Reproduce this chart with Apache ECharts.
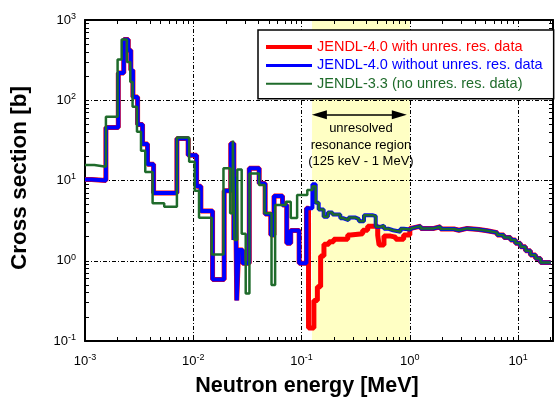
<!DOCTYPE html>
<html>
<head>
<meta charset="utf-8">
<script src="https://cdn.jsdelivr.net/npm/echarts@6/dist/echarts.min.js"></script>
<style>
  html, body { margin: 0; padding: 0; background: #fff; }
  #chart { width: 556px; height: 403px; }
</style>
</head>
<body>
<div id="chart"></div>
<script>
// Neutron cross section vs. energy: JENDL-4.0 (with / without unresolved
// resonance parameters) and JENDL-3.3, drawn as histogram steps.

// Resolved resonance range, shared by both JENDL-4.0 curves [MeV], [b]
const resolvedE = [0.001, 0.00115, 0.00156, 0.00203, 0.00228, 0.00251, 0.00265, 0.00277,
  0.00306, 0.0034, 0.00378, 0.0043, 0.00706, 0.00897, 0.01073, 0.01175, 0.01507, 0.01928,
  0.0222, 0.0237, 0.0245, 0.0252, 0.0262, 0.0285, 0.0329, 0.0406, 0.0461, 0.052, 0.0557,
  0.0667, 0.073, 0.0794, 0.095];
const resolvedS = [10.3, 10.0, 45.8, 219, 571, 420, 237, 110,
  50, 28.4, 15.9, 7.0, 33.4, 20.7, 8.5, 4.16, 0.585, 7.45,
  29, 1.81, 11.1, 0.32, 1.36, 0.93, 14.2, 9.2, 3.82, 2.09, 6.4,
  4.94, 1.65, 2.38, 0.93];

// JENDL-4.0 with unresolved resonance data (0.11 - 1 MeV)
const withUnresE = [0.111, 0.116, 0.130, 0.140, 0.150, 0.161, 0.179, 0.198, 0.267, 0.284,
  0.367, 0.408, 0.505, 0.52, 0.577, 0.665, 0.74, 0.877];
const withUnresS = [4.5, 0.145, 0.32, 0.475, 1.15, 1.6, 1.72, 1.85, 2.09, 2.17,
  2.4, 2.7, 2.09, 1.57, 2.03, 1.97, 1.85, 2.09];

// JENDL-4.0 without unresolved resonance data, lead-in to the smooth part
const withoutUnresE = [0.111, 0.126];
const withoutUnresS = [4.5, 9.0];

// Smooth cross section 0.135 - 1 MeV (JENDL-4.0 without unres. data and JENDL-3.3)
const smoothE = [0.135, 0.144, 0.160, 0.175, 0.193, 0.228, 0.245, 0.272, 0.315, 0.339,
  0.377, 0.45, 0.484, 0.54, 0.577, 0.64, 0.70, 0.82, 0.88];
const smoothS = [5.27, 4.36, 3.53, 4.0, 3.77, 3.38, 3.2, 3.45, 3.3, 3.1,
  3.7, 3.6, 2.65, 2.75, 2.5, 2.4, 2.3, 2.5, 2.45];

// Fast range 1 - 20 MeV, common to all three evaluations
const fastE = [1.0, 1.05, 1.26, 1.67, 1.92, 2.55, 2.84, 3.39, 4.34, 5.19, 6.41, 7.38,
  8.51, 9.46, 10.5, 11.7, 13.0, 14.5, 16.1, 20];
const fastS = [2.55, 2.70, 2.53, 2.65, 2.49, 2.40, 2.53, 2.45, 2.36, 2.24, 2.09, 1.95,
  1.81, 1.65, 1.49, 1.33, 1.18, 1.07, 0.95, 0.95];

// JENDL-3.3 below 0.135 MeV
const j33E = [0.001, 0.00122, 0.00156, 0.0020, 0.00218, 0.00244, 0.00262, 0.00275, 0.00302,
  0.00329, 0.0036, 0.00421, 0.00539, 0.00706, 0.00916, 0.0103, 0.0113, 0.0148, 0.0190,
  0.0219, 0.0232, 0.0240, 0.0255, 0.0280, 0.0305, 0.0330, 0.0406, 0.0455, 0.0528, 0.0570,
  0.0716, 0.0795, 0.0910, 0.113, 0.126];
const j33S = [15.6, 14.8, 62.1, 322, 571, 300, 169, 82.8, 40.4,
  23.4, 12.8, 5.19, 4.7, 34.4, 17.1, 7.45, 3.43, 1.20, 14.2,
  3.9, 31.6, 1.81, 13.7, 2.17, 0.39, 12.2, 8.8, 3.9, 0.5, 4.94,
  5.43, 3.4, 6.58, 7.6, 8.5];

const seriesNames = ['JENDL-4.0 with unres. res. data',
  'JENDL-4.0 without unres. res. data',
  'JENDL-3.3 (no unres. res. data)'];
const xLabelValues = [0.001, 0.01, 0.1, 1, 10];
const regionText = ['unresolved', 'resonance region', '(125 keV - 1 MeV)'];
const regionBounds = [0.125, 1];

const FONT = '"Liberation Sans", Arial, sans-serif';
const RED = '#ff0000', BLUE = '#0000ff', GREEN = '#1f6b2b';

const pairs = (E, S) => E.map((e, i) => [e, S[i]]);
const redData = pairs(resolvedE, resolvedS).concat(pairs(withUnresE, withUnresS), pairs(fastE, fastS));
const blueData = pairs(resolvedE, resolvedS).concat(pairs(withoutUnresE, withoutUnresS),
  pairs(smoothE, smoothS), pairs(fastE, fastS));
const greenData = pairs(j33E, j33S).concat(pairs(smoothE, smoothS), pairs(fastE, fastS));

// tick marks at 1..9 x 10^n inside each axis
function logTicks(lo, hi) {
  const out = [];
  for (let d = Math.floor(Math.log10(lo)); d <= Math.ceil(Math.log10(hi)); d++) {
    for (let m = 1; m <= 9; m++) {
      const v = +(m * Math.pow(10, d)).toPrecision(6);
      if (v >= lo * 0.999 && v <= hi * 1.001) out.push(v);
    }
  }
  return out;
}
const X_MIN = 0.001, X_MAX = 21, Y_MIN = 0.1, Y_MAX = 1000;
const xTicks = logTicks(X_MIN, X_MAX);
const yTicks = logTicks(Y_MIN, Y_MAX);

const powLabel = v => '{b|10}{s|' + Math.round(Math.log10(v)) + '}';
const labelRich = {
  b: { fontFamily: FONT, fontSize: 13, lineHeight: 16, color: '#000' },
  s: { fontFamily: FONT, fontSize: 9, lineHeight: 2, verticalAlign: 'top', color: '#000' }
};
const gridLine = { show: true, lineStyle: { color: '#000', width: 1, type: [4, 2, 1, 2] } };
const frame = { show: true, onZero: false, lineStyle: { color: '#000', width: 2 } };
const tickOnly = vals => ({ show: true, inside: true, length: 4, customValues: vals,
  lineStyle: { color: '#000', width: 1 } });
const titleStyle = size => ({ fontFamily: FONT, fontSize: size, fontWeight: 'bold', color: '#000' });
const noMarker = { opacity: 0 };

const chart = echarts.init(document.getElementById('chart'), null, { renderer: 'canvas' });
chart.setOption({
  animation: false,
  backgroundColor: '#fff',
  grid: { left: 84, right: 3, top: 20, bottom: 62, containLabel: false },
  xAxis: [
    { type: 'log', logBase: 10, min: X_MIN, max: X_MAX, position: 'bottom', z: 2,
      axisLine: frame, axisTick: { show: false }, splitLine: gridLine,
      axisLabel: { customValues: xLabelValues, formatter: powLabel, rich: labelRich, margin: 12 },
      name: 'Neutron energy [MeV]', nameLocation: 'middle', nameGap: 34,
      nameTextStyle: Object.assign(titleStyle(21.5), { padding: [0, 24, 0, 0] }) },
    { type: 'log', logBase: 10, min: X_MIN, max: X_MAX, position: 'bottom', z: 2,
      axisLine: { show: false }, axisTick: tickOnly(xTicks), axisLabel: { show: false },
      splitLine: { show: false } },
    { type: 'log', logBase: 10, min: X_MIN, max: X_MAX, position: 'top', z: 2,
      axisLine: frame, axisTick: tickOnly(xTicks), axisLabel: { show: false },
      splitLine: { show: false } }
  ],
  yAxis: [
    { type: 'log', logBase: 10, min: Y_MIN, max: Y_MAX, position: 'left', z: 2,
      axisLine: frame, axisTick: { show: false }, splitLine: gridLine,
      axisLabel: { formatter: powLabel, rich: labelRich, margin: 9 },
      name: 'Cross section [b]', nameLocation: 'middle', nameGap: 54, nameRotate: 90,
      nameTextStyle: Object.assign(titleStyle(22.5), { padding: [0, 0, 0, 5] }) },
    { type: 'log', logBase: 10, min: Y_MIN, max: Y_MAX, position: 'left', z: 2,
      axisLine: { show: false }, axisTick: tickOnly(yTicks), axisLabel: { show: false },
      splitLine: { show: false } },
    { type: 'log', logBase: 10, min: Y_MIN, max: Y_MAX, position: 'right', z: 2,
      axisLine: frame, axisTick: tickOnly(yTicks), axisLabel: { show: false },
      splitLine: { show: false } }
  ],
  legend: {
    left: 258, top: 30, orient: 'vertical', selectedMode: false,
    padding: [9, 11, 7, 6], itemGap: 2.4, itemWidth: 46, itemHeight: 10,
    backgroundColor: '#fff', borderColor: '#000', borderWidth: 1.5, borderRadius: 0,
    textStyle: { fontFamily: FONT, fontSize: 14.5, lineHeight: 16 },
    data: [
      { name: seriesNames[0], itemStyle: noMarker, lineStyle: { width: 4, color: RED }, textStyle: { color: RED } },
      { name: seriesNames[1], itemStyle: noMarker, lineStyle: { width: 3, color: BLUE }, textStyle: { color: BLUE } },
      { name: seriesNames[2], itemStyle: noMarker, lineStyle: { width: 2, color: GREEN }, textStyle: { color: GREEN } }
    ]
  },
  series: [
    { name: seriesNames[0], type: 'line', step: 'end', symbol: 'none', z: 3,
      data: redData, lineStyle: { color: RED, width: 5 }, itemStyle: { color: RED },
      markArea: { silent: true, z: 1, itemStyle: { color: '#ffffc4' },
        data: [[{ xAxis: regionBounds[0] }, { xAxis: regionBounds[1] }]] } },
    { name: seriesNames[1], type: 'line', step: 'end', symbol: 'none', z: 4,
      data: blueData, lineStyle: { color: BLUE, width: 4 }, itemStyle: { color: BLUE } },
    { name: seriesNames[2], type: 'line', step: 'end', symbol: 'none', z: 5,
      data: greenData, lineStyle: { color: GREEN, width: 2.5 }, itemStyle: { color: GREEN },
      markLine: { silent: true, z: 6, symbol: ['triangle', 'triangle'], symbolSize: [9, 15],
        lineStyle: { color: '#000', width: 1.5, type: 'solid' }, label: { show: false },
        data: [[{ coord: [0.146, 66] }, { coord: [0.80, 66] }]] },
      markPoint: { silent: true, z: 6, symbol: 'circle', symbolSize: 0,
        data: [{ coord: [Math.sqrt(regionBounds[0] * regionBounds[1]), 27.6] }],
        label: { show: true, position: 'inside', formatter: regionText.join('\n'),
          fontFamily: FONT, fontSize: 13, lineHeight: 16.7, color: '#000' } } }
  ]
});
</script>
</body>
</html>
